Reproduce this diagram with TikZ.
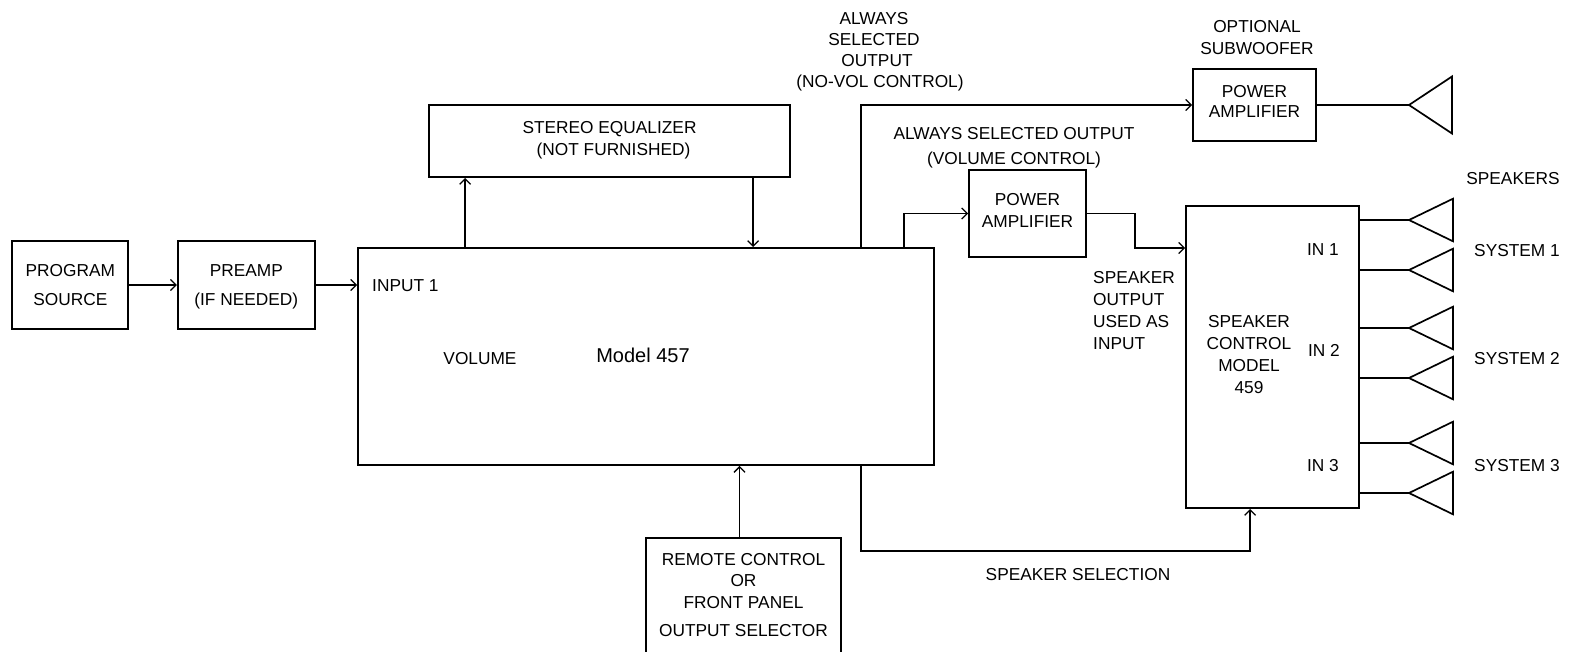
\documentclass[tikz,border=0pt]{standalone}
\usepackage{fontspec}
\setmainfont{Liberation Sans}
\usetikzlibrary{arrows.meta}
\begin{document}
\begin{tikzpicture}[x=1pt,y=-1pt,
  every node/.style={font=\fontsize{17.3}{21.5}\selectfont},
  box/.style={draw, line width=1.8pt, inner sep=0pt, align=center, text depth=0pt},
  txt/.style={inner sep=0pt, align=center, text depth=0pt},
  wire/.style={line width=1.7pt},
  arr/.style={line width=1.7pt, -{Straight Barb[length=5.5pt,width=11pt,line width=1.3pt]}},
  spk/.style={line width=1.7pt, line join=miter}
]
\useasboundingbox (0,0) rectangle (1572,651);
\clip (0,0) rectangle (1572,651);

% boxes
\node[box, minimum width=116pt, minimum height=88pt, font=\fontsize{17.3}{29}\selectfont] (src) at (70.3,285) {PROGRAM\\SOURCE};
\node[box, minimum width=137pt, minimum height=88pt, font=\fontsize{17.3}{29}\selectfont] (pre) at (246.3,285) {PREAMP\\(IF NEEDED)};
\node[box, minimum width=576pt, minimum height=217pt] (main) at (646,356.5) {};
\node[box, minimum width=361pt, minimum height=72pt, font=\fontsize{17.3}{22}\selectfont, text depth=6pt] (eq) at (609.5,141) {STEREO EQUALIZER\\\hspace*{8pt}(NOT FURNISHED)};
\node[box, minimum width=123pt, minimum height=72pt, font=\fontsize{17.3}{20}\selectfont, text depth=6.6pt] (sub) at (1254.5,105) {POWER\\AMPLIFIER};
\node[box, minimum width=117pt, minimum height=87pt, font=\fontsize{17.3}{22}\selectfont, text depth=7pt] (amp) at (1027.5,213.5) {POWER\\AMPLIFIER};
\node[box, minimum width=173pt, minimum height=302pt] (sc) at (1272.5,357) {};
\node[box, minimum width=195pt, minimum height=160pt, anchor=north] (remote) at (743.5,537) {};

% texts in main box
\node[txt, anchor=west] (in1) at (372,286) {INPUT 1};
\node[txt] (vol) at (480,358) {VOLUME};
\node[txt, font=\fontsize{20}{24}\selectfont] (model) at (643,355) {Model 457};

% remote text
\node[txt] (remtxt) at (743.5,595) {REMOTE CONTROL\\OR\\FRONT PANEL\\[7pt]OUTPUT SELECTOR};

% speaker control texts
\node[txt, font=\fontsize{17.3}{21.7}\selectfont] (sctxt) at (1249,354.5) {SPEAKER\\CONTROL\\MODEL\\459};
\node[txt] (l1) at (1323,250) {IN 1};
\node[txt] (l2) at (1324,350) {IN 2};
\node[txt] (l3) at (1323,465) {IN 3};

% outer labels
\node[txt, font=\fontsize{17.3}{21.2}\selectfont] (always1) at (874,50) {ALWAYS\\SELECTED\\\hspace*{6pt}OUTPUT\\\hspace*{12pt}(NO-VOL CONTROL)};
\node[txt, font=\fontsize{17.3}{21.5}\selectfont] (optsub) at (1257,37.3) {OPTIONAL\\SUBWOOFER};
\node[txt, font=\fontsize{17.3}{25}\selectfont] (always2) at (1014,145.8) {ALWAYS SELECTED OUTPUT\\(VOLUME CONTROL)};
\node[txt, align=left, font=\fontsize{17.3}{22.2}\selectfont, anchor=west] (spkout) at (1093,310.3) {SPEAKER\\OUTPUT\\USED AS\\INPUT};
\node[txt] (speakers) at (1513,178) {SPEAKERS};
\node[txt] (sys1) at (1517,250) {SYSTEM 1};
\node[txt] (sys2) at (1517,358) {SYSTEM 2};
\node[txt] (sys3) at (1517,465) {SYSTEM 3};
\node[txt] (selt) at (1078,574) {SPEAKER SELECTION};

% connectors
\draw[arr] (src.east) -- (pre.east -| pre.west);
\draw[arr] (pre.east) -- (pre.east -| main.west);
\draw[arr] ([xshift=108pt]main.north west) -- ([xshift=108pt]main.north west |- eq.south);
\draw[arr] ([xshift=325pt]eq.south west) -- ([xshift=325pt]eq.south west |- main.north);
\draw[arr] ([xshift=504pt]main.north west) |- (sub.west);
\draw[arr] ([xshift=547pt]main.north west) |- (amp.west);
\coordinate (bend) at (1135,248);
\draw[arr] (amp.east) -| (bend) -- (bend -| sc.west);
\coordinate (selrow) at (0,551);
\draw[arr] ([xshift=504pt]main.south west) |- ([xshift=65pt]sc.south west |- selrow) -- ([xshift=65pt]sc.south west);
\draw[arr] ([xshift=-4pt]remote.north) -- ([xshift=-4pt]remote.north |- main.south);

% speakers
\coordinate (t0) at (1409,105);
\draw[wire] (sub.east) -- (t0);
\draw[spk] (t0) -- ++(43,-28.5) -- ++(0,57) -- cycle;
\foreach \yy [count=\i] in {220,270,328,378,443,493} {
  \coordinate (t\i) at (1409,\yy);
  \draw[wire] (t\i -| sc.east) -- (t\i);
  \draw[spk] (t\i) -- ++(44,-21.3) -- ++(0,42.6) -- cycle;
}
\end{tikzpicture}
\end{document}
